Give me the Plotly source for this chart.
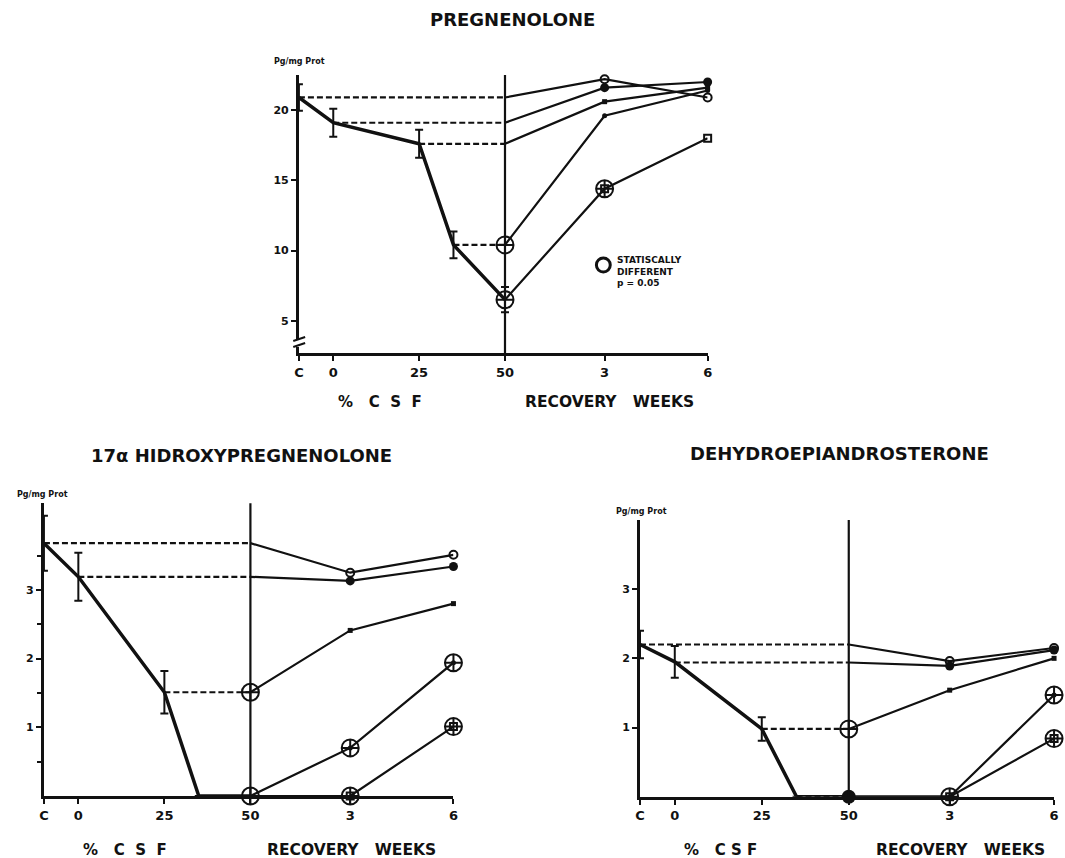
import plotly.graph_objects as go

# ---------------- data ----------------
x_tick_labels = ["C", "0", "25", "50", "3", "6"]
x_tick_pos = [-10, 0, 25, 50, 79, 109]
dose_x = [-10, 0, 25, 35, 50]
rec_x = [50, 79, 109]

# Pregnenolone (Pg/mg Prot)
preg_main = [20.9, 19.1, 17.6, 10.4, 6.5]
preg_err = [0.95, 1.0, 1.0, 0.95, 0.9]
preg_rec_c = [20.9, 22.2, 20.9]
preg_rec_0 = [19.1, 21.6, 22.0]
preg_rec_25 = [17.6, 20.6, 21.6]
preg_rec_35 = [10.4, 19.6, 21.4]
preg_rec_50 = [6.5, 14.4, 18.0]
preg_sig_x = [50, 50, 79]
preg_sig_y = [10.4, 6.5, 14.4]

# 17a Hidroxypregnenolone
hyd_main = [3.68, 3.19, 1.51, 0.0, 0.0]
hyd_err = [0.40, 0.35, 0.31, 0.0, 0.0]
hyd_rec_c = [3.68, 3.25, 3.51]
hyd_rec_0 = [3.19, 3.13, 3.34]
hyd_rec_25 = [1.51, 2.41, 2.80]
hyd_rec_35 = [0.0, 0.70, 1.94]
hyd_rec_50 = [0.0, 0.0, 1.01]
hyd_sig_x = [50, 50, 79, 79, 109, 109]
hyd_sig_y = [1.51, 0.0, 0.70, 0.0, 1.94, 1.01]

# Dehydroepiandrosterone
dhea_main = [2.20, 1.95, 0.98, 0.0, 0.0]
dhea_err = [0.20, 0.23, 0.17, 0.0, 0.0]
dhea_rec_c = [2.20, 1.96, 2.15]
dhea_rec_0 = [1.94, 1.89, 2.12]
dhea_rec_25 = [0.98, 1.54, 2.00]
dhea_rec_35 = [0.0, 0.0, 1.47]
dhea_rec_50 = [0.0, 0.0, 0.84]
dhea_sig_x = [50, 79, 109, 109]
dhea_sig_y = [0.98, 0.0, 1.47, 0.84]
dhea_big_x = [50]
dhea_big_y = [0.0]

FONT = "DejaVu Sans"
BLACK = "#111111"

fig = go.Figure()

end_markers = [
    dict(symbol="circle-open", size=8, line=dict(width=2, color=BLACK), color=BLACK),
    dict(symbol="circle", size=9, color=BLACK),
    dict(symbol="square", size=5, color=BLACK),
    dict(symbol="circle", size=5, color=BLACK),
    dict(symbol="square-open", size=7, line=dict(width=2, color=BLACK), color=BLACK),
]


def add_panel(ax, main, err, recs, sig_x, sig_y, big_x=None, big_y=None):
    xa = "x" + ax
    ya = "y" + ax
    # main dose-response line
    fig.add_trace(go.Scatter(
        x=dose_x, y=main, mode="lines", xaxis=xa, yaxis=ya,
        line=dict(color=BLACK, width=3.5),
        error_y=dict(type="data", array=err, visible=True, color=BLACK,
                     thickness=2, width=4),
        showlegend=False, cliponaxis=False))
    for i, rec in enumerate(recs):
        start = dose_x[i]
        if start < 50:
            fig.add_trace(go.Scatter(
                x=[start, rec_x[0]], y=[rec[0], rec[0]], mode="lines",
                xaxis=xa, yaxis=ya,
                line=dict(color=BLACK, width=2.2, dash="6px,3px"),
                showlegend=False, cliponaxis=False))
        fig.add_trace(go.Scatter(
            x=rec_x, y=rec, mode="lines", xaxis=xa, yaxis=ya,
            line=dict(color=BLACK, width=2.2), showlegend=False,
            cliponaxis=False))
        fig.add_trace(go.Scatter(
            x=rec_x[1:], y=rec[1:], mode="markers", xaxis=xa, yaxis=ya,
            marker=end_markers[i], showlegend=False, cliponaxis=False))
    fig.add_trace(go.Scatter(
        x=sig_x, y=sig_y, mode="markers", xaxis=xa, yaxis=ya,
        marker=dict(symbol="circle-cross-open", size=17, color=BLACK,
                    line=dict(width=2, color=BLACK)),
        showlegend=False, cliponaxis=False))
    if big_x is not None:
        fig.add_trace(go.Scatter(
            x=big_x, y=big_y, mode="markers", xaxis=xa, yaxis=ya,
            marker=dict(symbol="circle", size=14, color=BLACK),
            showlegend=False, cliponaxis=False))
    # recovery boundary line
    fig.add_shape(type="line", xref=xa, yref=ya + " domain", x0=50, x1=50,
                  y0=0, y1=1, line=dict(color=BLACK, width=2.2))


add_panel("", preg_main, preg_err,
          [preg_rec_c, preg_rec_0, preg_rec_25, preg_rec_35, preg_rec_50],
          preg_sig_x, preg_sig_y)
add_panel("2", hyd_main, hyd_err,
          [hyd_rec_c, hyd_rec_0, hyd_rec_25, hyd_rec_35, hyd_rec_50],
          hyd_sig_x, hyd_sig_y)
add_panel("3", dhea_main, dhea_err,
          [dhea_rec_c, dhea_rec_0, dhea_rec_25, dhea_rec_35, dhea_rec_50],
          dhea_sig_x, dhea_sig_y, dhea_big_x, dhea_big_y)

W, H = 1065, 858


def px(xp):
    return xp / W


def py(yp):
    return 1 - yp / H


xcommon = dict(
    range=[-10, 109], tickmode="array", tickvals=x_tick_pos,
    ticktext=["<b>%s</b>" % t for t in x_tick_labels],
    showline=True, linecolor=BLACK, linewidth=3, ticks="outside",
    ticklen=5, tickwidth=2, tickcolor=BLACK, showgrid=False, zeroline=False,
    tickfont=dict(family=FONT, size=13, color=BLACK), fixedrange=True)
ycommon = dict(
    showline=True, linecolor=BLACK, linewidth=3, ticks="outside",
    ticklen=5, tickwidth=2, tickcolor=BLACK, showgrid=False, zeroline=False,
    tickfont=dict(family=FONT, size=11, color=BLACK), fixedrange=True)

fig.update_layout(
    width=W, height=H,
    margin=dict(l=0, r=0, t=0, b=0),
    paper_bgcolor="white", plot_bgcolor="rgba(0,0,0,0)",
    showlegend=False,
    xaxis=dict(xcommon, domain=[px(296.7), px(709.3)], anchor="y"),
    yaxis=dict(ycommon, domain=[py(353.3), py(75)], anchor="x",
               range=[2.68, 22.5], tickvals=[5, 10, 15, 20],
               ticktext=["<b>5</b>", "<b>10</b>", "<b>15</b>", "<b>20</b>"]),
    xaxis2=dict(xcommon, domain=[px(39.3), px(452.7)], anchor="y2"),
    yaxis2=dict(ycommon, domain=[py(796), py(503.3)], anchor="x2",
                range=[0, 4.26], tickvals=[1, 2, 3],
                ticktext=["<b>1</b>", "<b>2</b>", "<b>3</b>"],
                minor=dict(tickvals=[0.5, 1.5, 2.5, 3.5], ticks="outside",
                           ticklen=4, tickwidth=2, tickcolor=BLACK)),
    xaxis3=dict(xcommon, domain=[px(641), px(1059)], anchor="y3"),
    yaxis3=dict(ycommon, domain=[py(796.7), py(520)], anchor="x3",
                range=[0, 4.0], tickvals=[1, 2, 3],
                ticktext=["<b>1</b>", "<b>2</b>", "<b>3</b>"]),
)

ann = []


def text(x, y, s, size, xanchor="center", align="center"):
    ann.append(dict(x=px(x), y=py(y), xref="paper", yref="paper", text=s,
                    showarrow=False, xanchor=xanchor, yanchor="middle",
                    align=align,
                    font=dict(family=FONT, size=size, color=BLACK)))


# titles
text(512, 20, "<b>PREGNENOLONE</b>", 18)
text(239, 455, "<b>17α HIDROXYPREGNENOLONE</b>", 18)
text(842, 453, "<b>DEHYDROEPIANDROSTERONE</b>", 18)

# unit labels
text(270, 62, "<b>Pg/mg Prot</b>", 8, xanchor="left")
text(10, 494, "<b>Pg/mg Prot</b>", 8, xanchor="left")
text(615, 511, "<b>Pg/mg Prot</b>", 8, xanchor="left")

# axis captions
text(379, 402, "<b>%   C  S  F</b>", 15)
text(610, 402, "<b>RECOVERY   WEEKS</b>", 15.5)
text(121, 850, "<b>%   C  S  F</b>", 15)
text(350, 850, "<b>RECOVERY   WEEKS</b>", 15.5)
text(722, 850, "<b>%   C S F</b>", 15)
text(965, 850, "<b>RECOVERY   WEEKS</b>", 15.5)

# significance key
text(616, 271, "<b>STATISCALLY<br>DIFFERENT<br>p = 0.05</b>", 9,
     xanchor="left", align="left")
fig.layout.annotations = ann
fig.add_shape(type="circle", xref="paper", yref="paper",
              x0=px(597), x1=px(611), y0=py(272), y1=py(258),
              line=dict(color=BLACK, width=3))

# axis break mark on pregnenolone y-axis
fig.add_shape(type="rect", xref="paper", yref="paper",
              x0=px(293), x1=px(301), y0=py(347), y1=py(339),
              line=dict(width=0), fillcolor="white", layer="above")
for dy in (0, 6):
    fig.add_shape(type="line", xref="paper", yref="paper",
                  x0=px(291), x1=px(303), y0=py(341 + dy), y1=py(337 + dy),
                  line=dict(color=BLACK, width=2))

fig.write_html("out.html")
